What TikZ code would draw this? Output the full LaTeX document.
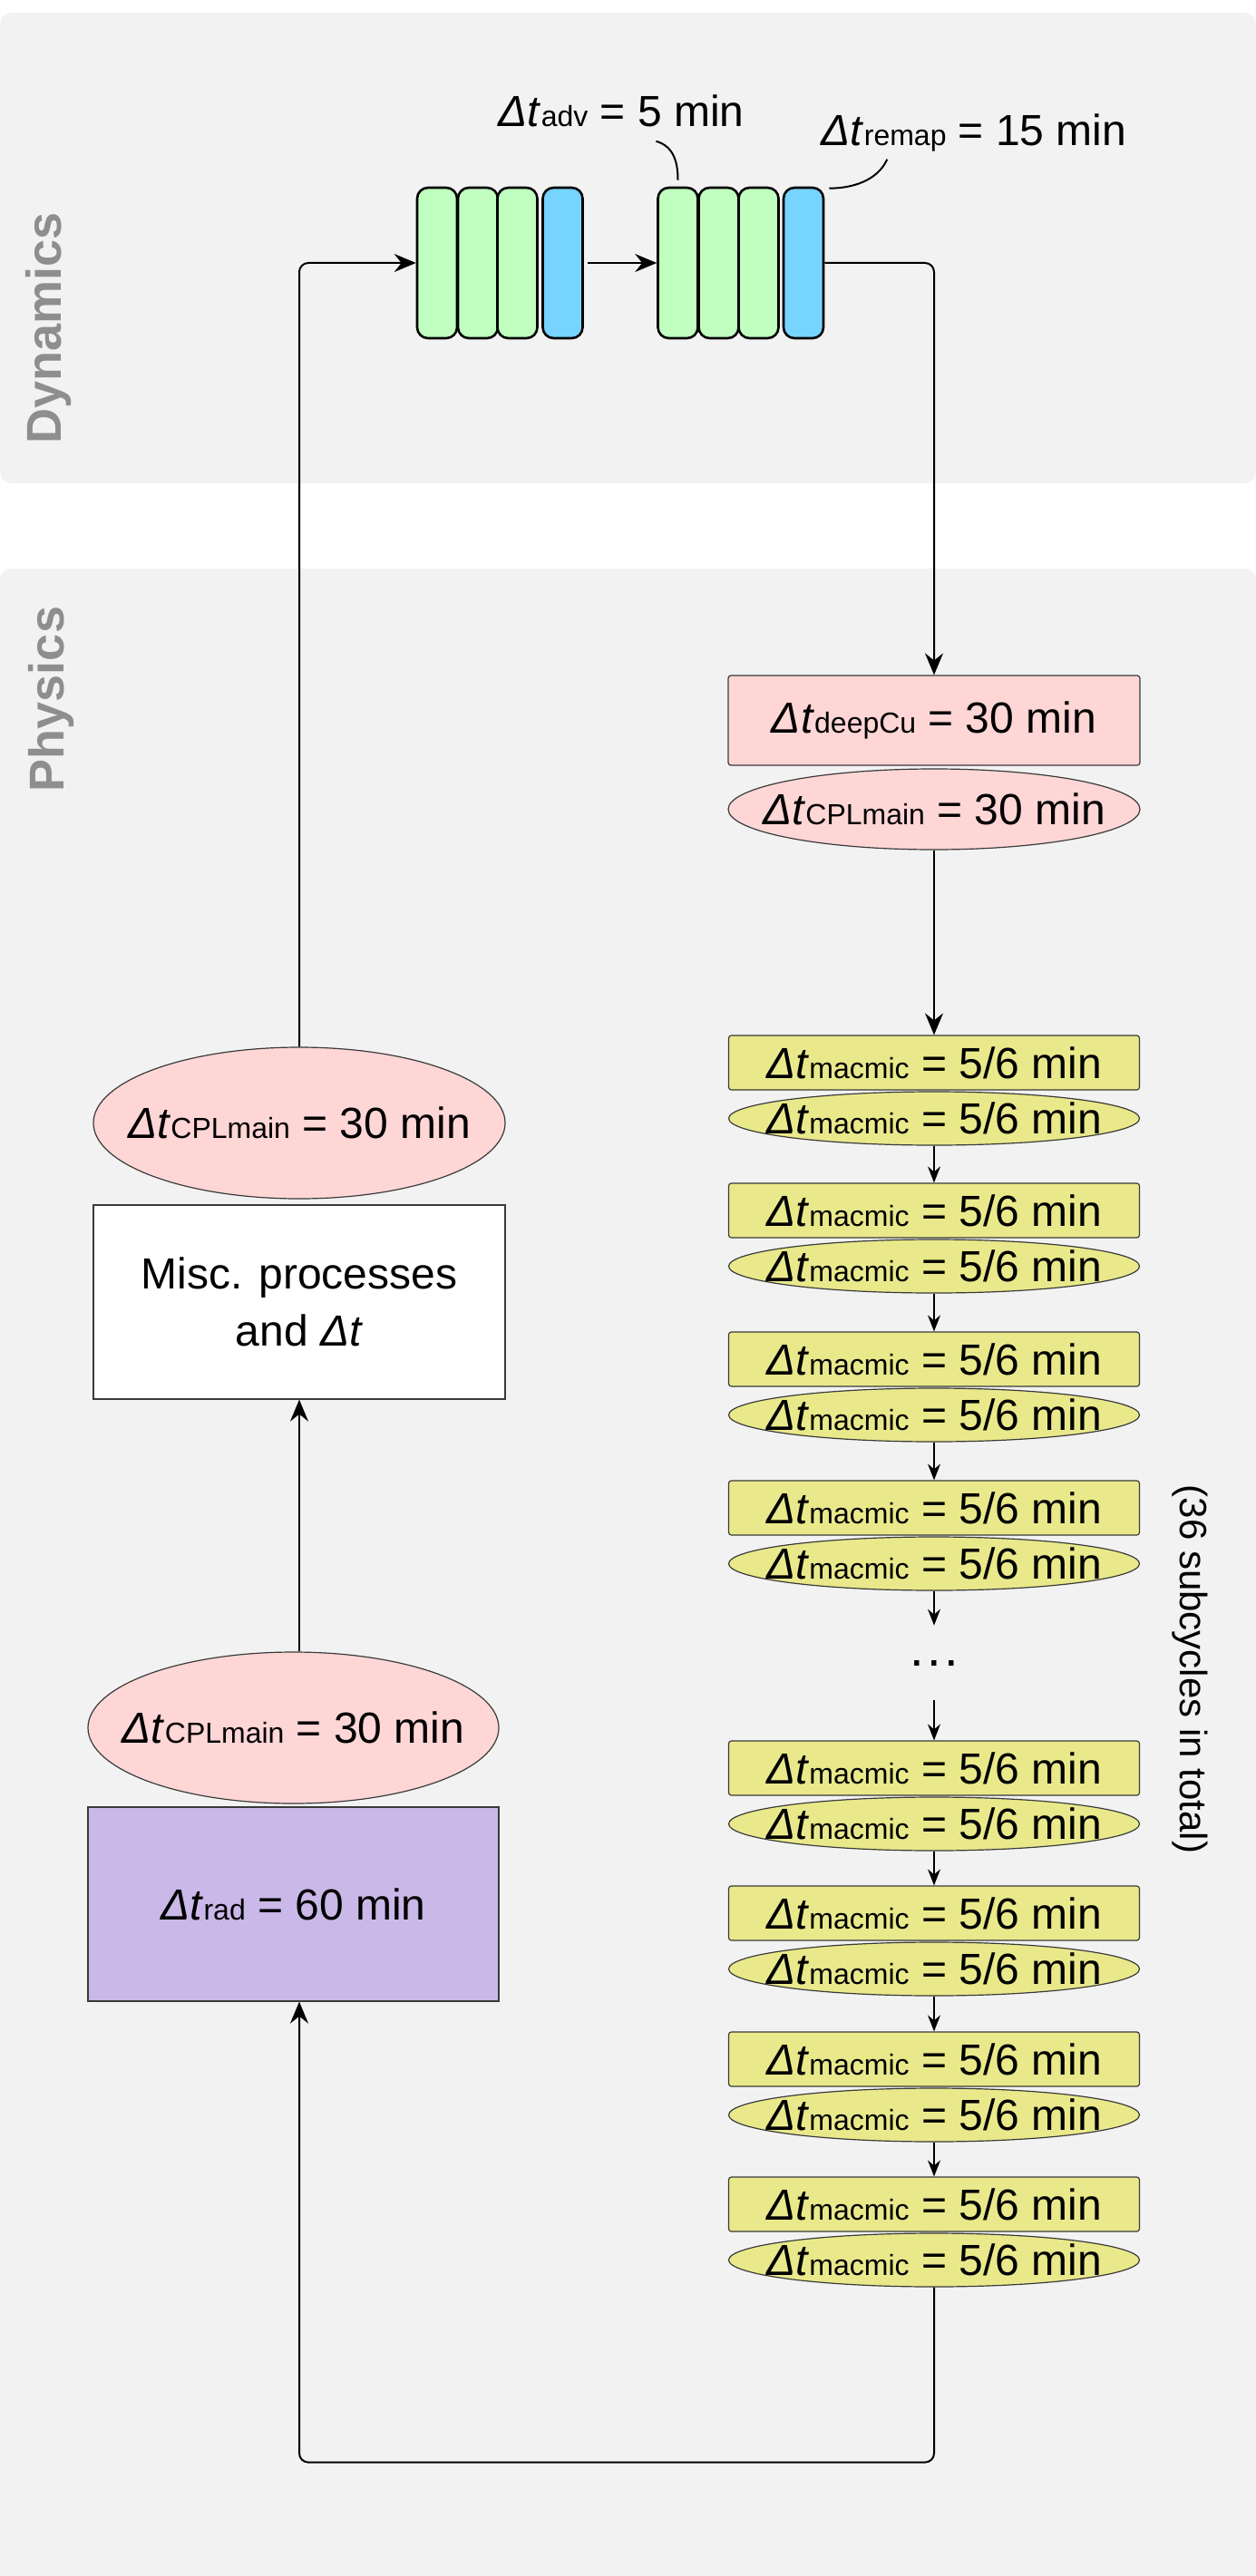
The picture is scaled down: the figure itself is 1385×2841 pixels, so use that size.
\documentclass[tikz,border=0pt]{standalone}
\usepackage{fontspec}
\setmainfont{Liberation Sans}
\usetikzlibrary{arrows.meta, positioning, calc, shapes.geometric}
\definecolor{cyPanel}{HTML}{F2F2F2}
\definecolor{cyLabel}{HTML}{8E8E8E}
\definecolor{cyLine}{HTML}{3A3A3A}
\definecolor{cyGreen}{HTML}{C0FFC0}
\definecolor{cyBlue}{HTML}{77D4FF}
\definecolor{cyPink}{HTML}{FFD6D6}
\definecolor{cyYellow}{HTML}{E9E98B}
\definecolor{cyPurple}{HTML}{C9B8E8}
\newcommand{\dtsub}[1]{\textit{Δt}{\fontsize{16}{18}\selectfont #1}}
\newcommand{\inell}[1]{\raisebox{-8.6pt}[0pt][0pt]{\makebox[0pt]{#1}}}
\tikzset{
  tick/.style={
    draw=black, line width=1.3pt, rounded corners=6pt,
    minimum width=22pt, minimum height=83pt, inner sep=0pt
  },
  advtick/.style={tick, fill=cyGreen},
  remaptick/.style={tick, fill=cyBlue},
  proc/.style={
    draw=cyLine, line width=0.6pt, inner sep=0pt, align=center,
    font=\fontsize{24}{31.5}\selectfont, minimum width=227pt
  },
  deepbox/.style={proc, fill=cyPink, rounded corners=1.5pt, minimum height=49.5pt},
  cplell/.style={proc, ellipse, fill=cyPink},
  macbox/.style={proc, fill=cyYellow, rounded corners=1.5pt, minimum width=226.5pt, minimum height=30pt},
  macell/.style={proc, ellipse, fill=cyYellow, minimum width=226.5pt, minimum height=29.5pt},
  note/.style={font=\fontsize{24}{28}\selectfont, inner sep=0pt},
  paneltxt/.style={font=\fontsize{27}{30}\selectfont\bfseries, text=cyLabel, rotate=90},
  flow/.style={-{Stealth[length=12pt, width=10pt, inset=4pt]}, line width=1pt, draw=black, rounded corners=5pt},
  flows/.style={-{Stealth[length=9pt, width=7pt, inset=3pt]}, line width=0.75pt, draw=black},
  callout/.style={line width=1pt, draw=black},
}

\begin{document}
\begin{tikzpicture}[x=0.5pt, y=-0.5pt]
  \useasboundingbox (0,0) rectangle (1385,2841);
  % panels
  \fill[cyPanel, rounded corners=6.5pt] (0,14) rectangle (1385,533);
  \fill[cyPanel, rounded corners=6.5pt] (0,627) rectangle (1385,2880);
  \node[paneltxt] (dynlbl) at (54,362) {Dynamics};
  \node[paneltxt] (phylbl) at (57,771) {Physics};

  % dynamics steps
  \node[advtick] (b11) at (482,290) {};
  \node[advtick] (b12) at (527,290) {};
  \node[advtick] (b13) at (570.5,290) {};
  \node[remaptick] (b14) at (620.5,290) {};
  \node[advtick] (b21) at (747.5,290) {};
  \node[advtick] (b22) at (792.5,290) {};
  \node[advtick] (b23) at (836.5,290) {};
  \node[remaptick] (b24) at (886,290) {};
  \node[note, anchor=base] (advlbl) at (685,140) {\dtsub{adv} = 5 min};
  \node[note, anchor=base] (remaplbl) at (1074,161) {\dtsub{remap} = 15 min};
  \draw[callout] ($(b21.north)+(-24,-50)$) .. controls ($(b21.north)+(-4,-44)$) and ($(b21.north)+(0,-26)$) .. ($(b21.north)+(0,-7)$);
  \draw[callout] ($(b24.north east)+(69,-30)$) .. controls ($(b24.north east)+(58,-6)$) and ($(b24.north east)+(30,2)$) .. ($(b24.north east)+(5,2)$);
  \draw[flow, shorten <=2pt] (b14.east) -- (b21.west);

  % physics, right column
  \node[deepbox] (deep) at (1030,794.5) {\dtsub{deepCu} = 30 min};
  \node[cplell, minimum height=44.5pt] (cplr) at (1030,892.5) {\inell{\dtsub{CPLmain} = 30 min}};
  \node[macbox] (m1b) at (1030,1172) {\dtsub{macmic} = 5/6 min};
  \node[macell] (m1e) at (1030,1233.5) {\inell{\dtsub{macmic} = 5/6 min}};
  \node[macbox] (m2b) at (1030,1335) {\dtsub{macmic} = 5/6 min};
  \node[macell] (m2e) at (1030,1396.5) {\inell{\dtsub{macmic} = 5/6 min}};
  \node[macbox] (m3b) at (1030,1499) {\dtsub{macmic} = 5/6 min};
  \node[macell] (m3e) at (1030,1560.5) {\inell{\dtsub{macmic} = 5/6 min}};
  \node[macbox] (m4b) at (1030,1663) {\dtsub{macmic} = 5/6 min};
  \node[macell] (m4e) at (1030,1724.5) {\inell{\dtsub{macmic} = 5/6 min}};
  \node[note, font=\fontsize{28}{30}\selectfont, minimum height=41pt] (dots) at (1030,1834) {.\hspace{1.7pt}.\hspace{1.7pt}.};
  \node[macbox] (m5b) at (1030,1950) {\dtsub{macmic} = 5/6 min};
  \node[macell] (m5e) at (1030,2011.5) {\inell{\dtsub{macmic} = 5/6 min}};
  \node[macbox] (m6b) at (1030,2110) {\dtsub{macmic} = 5/6 min};
  \node[macell] (m6e) at (1030,2171.5) {\inell{\dtsub{macmic} = 5/6 min}};
  \node[macbox] (m7b) at (1030,2271) {\dtsub{macmic} = 5/6 min};
  \node[macell] (m7e) at (1030,2332.5) {\inell{\dtsub{macmic} = 5/6 min}};
  \node[macbox] (m8b) at (1030,2431) {\dtsub{macmic} = 5/6 min};
  \node[macell] (m8e) at (1030,2492.5) {\inell{\dtsub{macmic} = 5/6 min}};
  \node[note, font=\fontsize{21}{24}\selectfont, rotate=-90] (ncyc) at (1312,1841) {(36 subcycles in total)};

  % physics, left column
  \node[cplell, minimum height=83.5pt] (cplm) at (330,1238.5) {\inell{\dtsub{CPLmain} = 30 min}};
  \node[proc, fill=white, minimum height=107pt] (misc) at (330,1436) {Misc. processes\\and \textit{Δt}};
  \node[cplell, minimum width=226.5pt, minimum height=83.5pt] (cplrad) at (323.5,1905.5) {\inell{\dtsub{CPLmain} = 30 min}};
  \node[proc, fill=cyPurple, minimum width=226.5pt, minimum height=107pt] (rad) at (323.5,2100) {\dtsub{rad} = 60 min};

  % connectors
  \draw[flow] (b24.east) -| (deep.north);
  \draw[flow] (cplr.south) -- (m1b.north);
  \draw[flows] (m1e.south) -- (m2b.north);
  \draw[flows] (m2e.south) -- (m3b.north);
  \draw[flows] (m3e.south) -- (m4b.north);
  \draw[flows] (m4e.south) -- (dots.north);
  \draw[flows] (dots.south) -- (m5b.north);
  \draw[flows] (m5e.south) -- (m6b.north);
  \draw[flows] (m6e.south) -- (m7b.north);
  \draw[flows] (m7e.south) -- (m8b.north);
  \draw[flow] (m8e.south) -- ++(0,193) -| ($(rad.south)+(6.5,0)$);
  \draw[flow] ($(cplrad.north)+(6.5,0)$) -- (misc.south);
  \draw[flow] (cplm.north) |- (b11.west);
\end{tikzpicture}
\end{document}
